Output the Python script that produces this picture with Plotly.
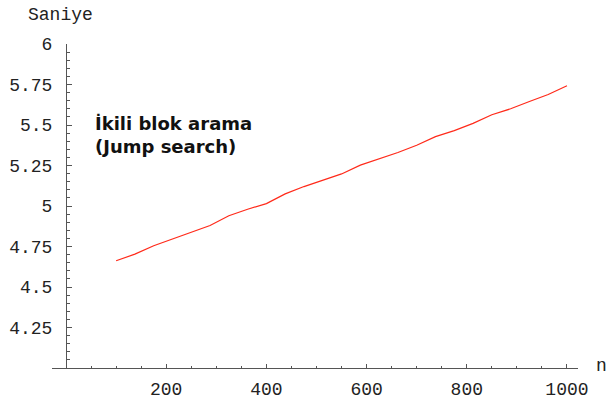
import plotly.graph_objects as go

# Data
n_values = [100, 137.5, 175, 212.5, 250, 287.5, 325, 362.5, 400, 437.5, 475, 512.5,
            550, 587.5, 625, 662.5, 700, 737.5, 775, 812.5, 850, 887.5, 925, 962.5, 1000]
seconds = [4.662, 4.703, 4.755, 4.797, 4.838, 4.880, 4.940, 4.980, 5.015, 5.075, 5.120, 5.158,
           5.198, 5.252, 5.290, 5.330, 5.375, 5.428, 5.465, 5.510, 5.563, 5.600, 5.645, 5.688, 5.742]

x_ticks = [200, 400, 600, 800, 1000]
x_ticklabels = ["200", "400", "600", "800", "1000"]
y_ticks = [4.25, 4.5, 4.75, 5, 5.25, 5.5, 5.75, 6]
y_ticklabels = ["4.25", "4.5", "4.75", "5", "5.25", "5.5", "5.75", "6"]
label_lines = ["İkili blok arama", "(Jump search)"]

x_range = [-28, 1022]
y_range = [4.0, 6.0]

W, H = 609, 399
ML, MR, MT, MB = 52, 31, 44, 31
PW = W - ML - MR
PH = H - MT - MB

def px_x(p):
    return (p - ML) / PW

def px_y(p):
    return (H - MB - p) / PH

mono = "Liberation Mono, Courier New, monospace"
axis_color = "#555555"
text_color = "#222222"
bold_font = dict(family="DejaVu Sans, Verdana, sans-serif", size=18,
                 color="#111111", weight="bold")

fig = go.Figure()
fig.add_trace(go.Scatter(x=n_values, y=seconds, mode="lines",
                         line=dict(color="#ff2a1a", width=1.2), showlegend=False,
                         hoverinfo="skip"))

fig.update_layout(
    width=W, height=H,
    margin=dict(l=ML, r=MR, t=MT, b=MB, pad=0, autoexpand=False),
    paper_bgcolor="white", plot_bgcolor="white",
    xaxis=dict(
        range=x_range, showgrid=False, zeroline=False, automargin=False,
        showline=True, linecolor=axis_color, linewidth=1,
        ticks="inside", ticklen=4, tickcolor=axis_color, tickwidth=1,
        tickvals=x_ticks, ticktext=x_ticklabels,
        tickfont=dict(family=mono, size=18, color=text_color),
        ticklabelstandoff=4,
        minor=dict(dtick=50, tick0=0, ticks="inside", ticklen=2,
                   tickcolor=axis_color, showgrid=False),
    ),
    yaxis=dict(
        range=y_range, showgrid=False, zeroline=False, automargin=False,
        anchor="free", position=28 / 1050, side="left",
        showline=True, linecolor=axis_color, linewidth=1,
        ticks="inside", ticklen=5, tickcolor=axis_color, tickwidth=1,
        tickvals=y_ticks, ticktext=y_ticklabels,
        tickfont=dict(family=mono, size=18, color=text_color),
        ticklabelstandoff=10,
        minor=dict(dtick=0.05, tick0=4, ticks="inside", ticklen=3,
                   tickcolor=axis_color, showgrid=False),
    ),
    annotations=[
        dict(text="Saniye", xref="paper", yref="paper", x=px_x(26), y=px_y(15),
             xanchor="left", yanchor="middle", showarrow=False,
             font=dict(family=mono, size=18, color=text_color)),
        dict(text="n", xref="paper", yref="paper", x=px_x(594), y=px_y(366),
             xanchor="left", yanchor="middle", showarrow=False,
             font=dict(family=mono, size=18, color=text_color)),
        dict(text="<br>".join(label_lines), xref="paper", yref="paper",
             x=px_x(93), y=px_y(111), xanchor="left", yanchor="top", align="left",
             showarrow=False, font=bold_font),
    ],
)

fig.write_html("out.html", config={"displayModeBar": False},
               post_script="document.body.style.margin='0';document.body.style.overflow='hidden';")
